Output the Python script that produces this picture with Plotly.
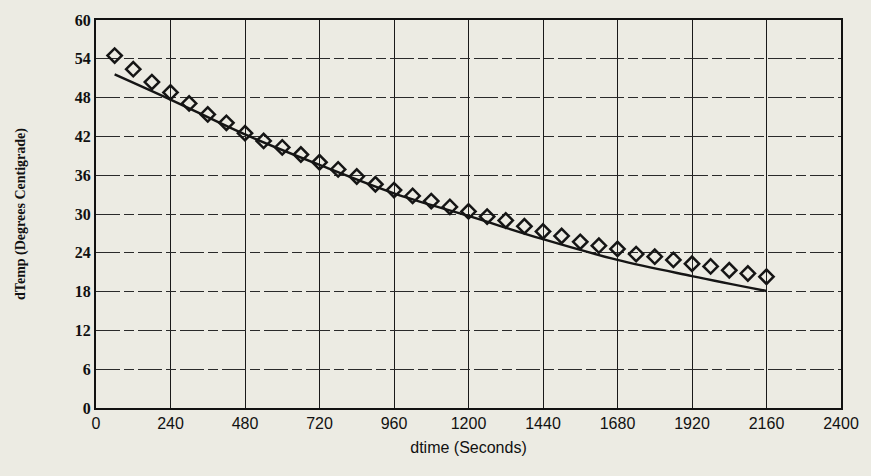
import plotly.graph_objects as go

# Measured data (diamonds)
dtime = [60, 120, 180, 240, 300, 360, 420, 480, 540, 600, 660, 720, 780, 840, 900,
         960, 1020, 1080, 1140, 1200, 1260, 1320, 1380, 1440, 1500, 1560, 1620, 1680,
         1740, 1800, 1860, 1920, 1980, 2040, 2100, 2160]
dtemp = [54.5, 52.4, 50.4, 48.8, 47.1, 45.4, 44.1, 42.5, 41.3, 40.3, 39.2, 38.0, 36.9,
         35.8, 34.6, 33.7, 32.8, 32.0, 31.1, 30.4, 29.6, 29.0, 28.1, 27.3, 26.6, 25.7,
         25.1, 24.6, 23.8, 23.4, 22.9, 22.3, 21.9, 21.3, 20.8, 20.3]

# Fitted curve (solid line)
fit_time = [60, 240, 480, 720, 960, 1200, 1440, 1680, 1920, 2160]
fit_temp = [51.6, 47.7, 42.3, 37.6, 33.2, 29.7, 26.1, 22.9, 20.4, 18.1]

x_ticks = [0, 240, 480, 720, 960, 1200, 1440, 1680, 1920, 2160, 2400]
y_ticks = [0, 6, 12, 18, 24, 30, 36, 42, 48, 54, 60]

bg = "#ECEBE3"

fig = go.Figure()
fig.add_trace(go.Scatter(
    x=fit_time, y=fit_temp, mode="lines",
    line=dict(color="#151515", width=2.4, shape="spline"),
    showlegend=False,
))
fig.add_trace(go.Scatter(
    x=dtime, y=dtemp, mode="markers",
    marker=dict(symbol="diamond-open", size=11, color="#151515",
                line=dict(width=2.5, color="#151515")),
    showlegend=False,
))

fig.update_layout(
    width=871, height=476,
    margin=dict(l=96, r=28, t=13, b=68),
    paper_bgcolor=bg, plot_bgcolor=bg,
    font=dict(family="Liberation Serif", color="#111111"),
)
fig.update_xaxes(
    range=[0, 2400], tickvals=x_ticks, ticktext=[str(v) for v in x_ticks],
    showgrid=True, gridcolor="#1a1a1a", gridwidth=1.2,
    showline=True, linecolor="#111111", linewidth=2.2, mirror=True,
    zeroline=False, ticks="",
    tickfont=dict(family="Liberation Sans Narrow, Liberation Sans", size=16, color="#111111"),
    title=dict(text="dtime (Seconds)", standoff=11,
               font=dict(family="Liberation Sans Narrow, Liberation Sans", size=16, color="#111111")),
)
fig.update_yaxes(
    range=[0, 60], tickvals=y_ticks, ticktext=["<b>%d</b>" % v for v in y_ticks],
    showgrid=True, gridcolor="#2a2a2a", gridwidth=1.3, griddash="24px,4px,10px,4px",
    showline=True, linecolor="#111111", linewidth=2.2, mirror=True,
    zeroline=False, ticks="",
    tickfont=dict(family="Liberation Serif", size=16, color="#111111"),
    title=dict(text="<b>dTemp (Degrees Centigrade)</b>", standoff=46,
               font=dict(family="Liberation Serif", size=14, color="#111111")),
)

fig.write_html("out.html", config={"displayModeBar": False},
               post_script="document.body.style.margin='0';")
